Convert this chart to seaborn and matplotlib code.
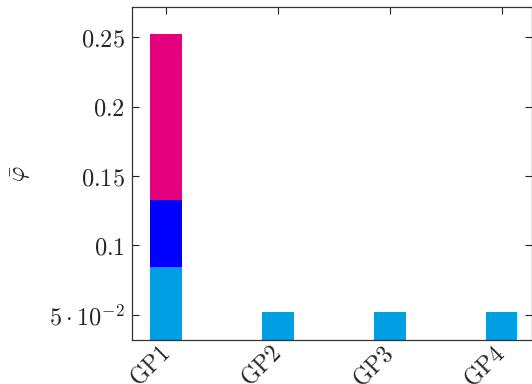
import matplotlib
matplotlib.use("Agg")
import matplotlib.pyplot as plt
import seaborn as sns
import pandas as pd
from matplotlib.ticker import FixedLocator, FixedFormatter

# Stacked contributions per group
groups = ["GP1", "GP2", "GP3", "GP4"]
part_a = [0.0845, 0.052, 0.052, 0.052]   # light blue (bottom)
part_b = [0.048, 0.0, 0.0, 0.0]          # blue (middle)
part_c = [0.1195, 0.0, 0.0, 0.0]         # magenta (top)

colors = {"a": "#009FE3", "b": "#0000FF", "c": "#E5007D"}

ytick_vals = [0.05, 0.1, 0.15, 0.2, 0.25]
ytick_labels = [r"$5\cdot10^{-2}$", r"$0.1$", r"$0.15$", r"$0.2$", r"$0.25$"]

sns.set_theme(style="white")
plt.rcParams["mathtext.fontset"] = "cm"
plt.rcParams["font.family"] = ["DejaVu Serif"]

df = pd.DataFrame({"group": groups, "a": part_a, "b": part_b, "c": part_c})
df["ab"] = df["a"] + df["b"]
df["abc"] = df["ab"] + df["c"]

fig = plt.figure(figsize=(5.32, 3.84), dpi=100)
ax = fig.add_axes([132 / 532, 1 - 340 / 384, 400 / 532, 333 / 384])

# Draw cumulative totals from tallest to shortest so they stack visually
for col, key in [("abc", "c"), ("ab", "b"), ("a", "a")]:
    sns.barplot(data=df, x="group", y=col, color=colors[key], width=0.28,
                saturation=1, ax=ax, edgecolor="none", linewidth=0)

ax.set_xlim(-0.305, 3.27)
ax.set_ylim(0.032, 0.2716)
ax.yaxis.set_major_locator(FixedLocator(ytick_vals))
ax.yaxis.set_major_formatter(FixedFormatter(ytick_labels))
ax.set_xticks(range(len(groups)))
ax.set_xticklabels([r"$\mathrm{%s}$" % g for g in groups], rotation=45,
                   ha="right", va="center", rotation_mode="anchor")

ax.set_xlabel("")
ax.set_ylabel(r"$\bar{\varphi}$", fontsize=17, labelpad=12)

ax.tick_params(axis="both", which="major", direction="in", length=5,
               width=0.8, color="#222222", top=True, right=True,
               bottom=True, left=True, labelsize=17.5, pad=5)
ax.tick_params(axis="x", labelsize=17, pad=7)
for s in ax.spines.values():
    s.set_visible(True)
    s.set_color("#333333")
    s.set_linewidth(0.9)

fig.savefig("out.png", dpi=100)
